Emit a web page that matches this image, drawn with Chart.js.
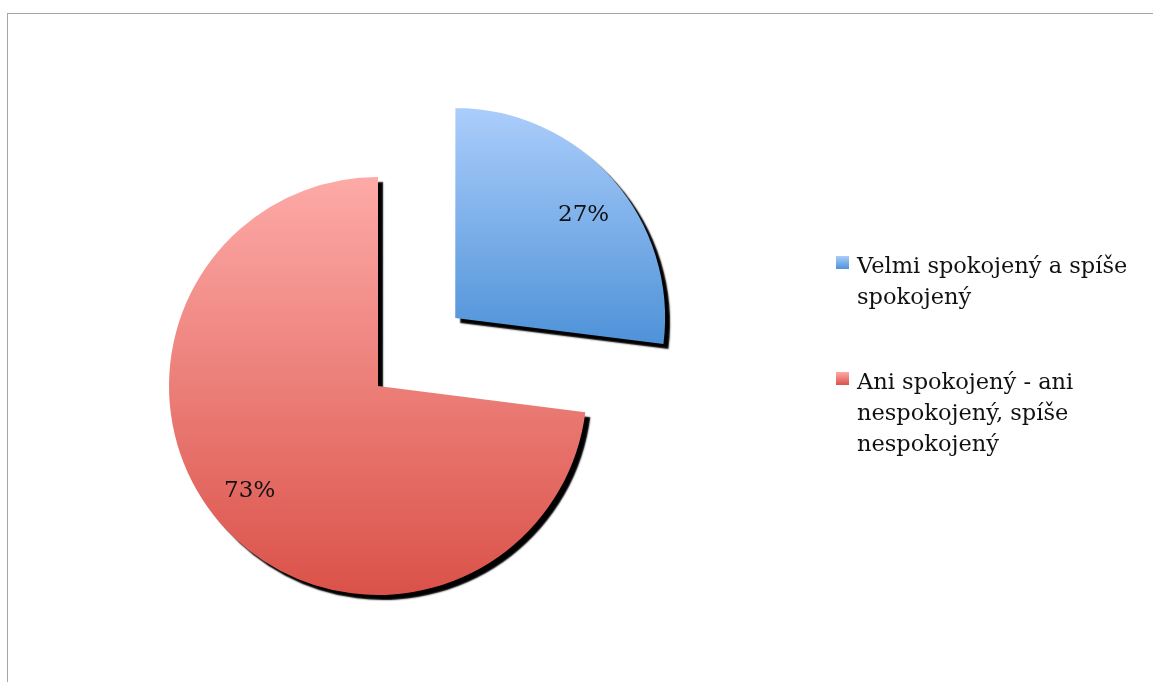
<!DOCTYPE html>
<html lang="cs">
<head>
<meta charset="utf-8">
<script src="https://cdn.jsdelivr.net/npm/chart.js@4/dist/chart.umd.min.js"></script>
<style>
  html, body { margin: 0; padding: 0; background: #fff; }
  body { width: 1153px; height: 682px; position: relative; overflow: hidden; }
  #frame {
    position: absolute; left: 7px; top: 13px; width: 1160px; height: 700px;
    border: 1px solid #a6a6a6; box-sizing: border-box;
  }
  #chart { position: absolute; left: 0; top: 0; }
  #legend {
    position: absolute; left: 836px; top: 250px;
    font-family: "DejaVu Serif", serif; font-size: 22.5px; line-height: 31px; color: #111;
  }
  .item { position: relative; padding-left: 21px; margin-bottom: 54px; white-space: nowrap; }
  .box { position: absolute; left: 0; top: 6px; width: 13px; height: 13px; }
</style>
</head>
<body>
<div id="frame"></div>
<canvas id="chart" width="1153" height="682"></canvas>
<div id="legend"></div>
<script>
const categories = [
  ['Velmi spokojený a spíše', 'spokojený'],
  ['Ani spokojený - ani', 'nespokojený, spíše', 'nespokojený']
];
const shares = [27, 73];
const topColors = ['#abcdfb', '#fdaaa7'];
const bottomColors = ['#4e92d8', '#da5249'];

// legend on the right, one block per category
const legend = document.getElementById('legend');
categories.forEach((lines, i) => {
  const item = document.createElement('div');
  item.className = 'item';
  const box = document.createElement('span');
  box.className = 'box';
  box.style.background = `linear-gradient(${topColors[i]}, ${bottomColors[i]})`;
  item.appendChild(box);
  lines.forEach((t, k) => {
    if (k) item.appendChild(document.createElement('br'));
    item.appendChild(document.createTextNode(t));
  });
  legend.appendChild(item);
});

// vertical gradient per slice + hard black drop shadow, then percentage labels
const sliceLook = {
  id: 'sliceLook',
  beforeDatasetsDraw(chart) {
    const ctx = chart.ctx;
    chart.getDatasetMeta(0).data.forEach((arc, i) => {
      // the arc translates itself by its offset before filling,
      // so the gradient is built around the untranslated centre
      const { y, startAngle, endAngle, outerRadius } =
        arc.getProps(['y', 'startAngle', 'endAngle', 'outerRadius'], true);
      const ys = [y, y + Math.sin(startAngle) * outerRadius, y + Math.sin(endAngle) * outerRadius];
      [-Math.PI / 2, Math.PI / 2, 1.5 * Math.PI].forEach(a => {
        if (a > startAngle && a < endAngle) ys.push(y + Math.sin(a) * outerRadius);
      });
      const g = ctx.createLinearGradient(0, Math.min(...ys), 0, Math.max(...ys));
      g.addColorStop(0, topColors[i]);
      g.addColorStop(1, bottomColors[i]);
      arc.options.backgroundColor = g;
    });
    ctx.save();
    ctx.shadowColor = '#000';
    ctx.shadowOffsetX = 5;
    ctx.shadowOffsetY = 5;
    ctx.shadowBlur = 1.5;
  },
  afterDatasetsDraw(chart) {
    const ctx = chart.ctx;
    ctx.restore();
    ctx.save();
    ctx.font = '23px "DejaVu Serif", serif';
    ctx.fillStyle = '#111';
    ctx.textAlign = 'center';
    ctx.textBaseline = 'middle';
    chart.getDatasetMeta(0).data.forEach((arc, i) => {
      const { x, y, startAngle, endAngle, outerRadius } =
        arc.getProps(['x', 'y', 'startAngle', 'endAngle', 'outerRadius'], true);
      const mid = (startAngle + endAngle) / 2;
      const shift = (arc.options.offset || 0) / 4;
      const cx = x + Math.cos(mid) * shift;
      const cy = y + Math.sin(mid) * shift;
      // labels sit a little clockwise of the slice bisector
      const a = mid + 0.042;
      const d = outerRadius * 0.79;
      ctx.fillText(shares[i] + '%', cx + Math.cos(a) * d, cy + Math.sin(a) * d + 1);
    });
    ctx.restore();
  }
};

new Chart(document.getElementById('chart'), {
  type: 'pie',
  data: {
    labels: categories,
    datasets: [{
      data: shares,
      backgroundColor: topColors,
      borderWidth: 0,
      offset: [412, 0],
      clip: false
    }]
  },
  options: {
    responsive: false,
    animation: false,
    radius: 209,
    layout: { padding: { left: 0, right: 397, top: 90, bottom: 0 } },
    plugins: {
      legend: { display: false },
      tooltip: { enabled: false }
    }
  },
  plugins: [sliceLook]
});
</script>
</body>
</html>
